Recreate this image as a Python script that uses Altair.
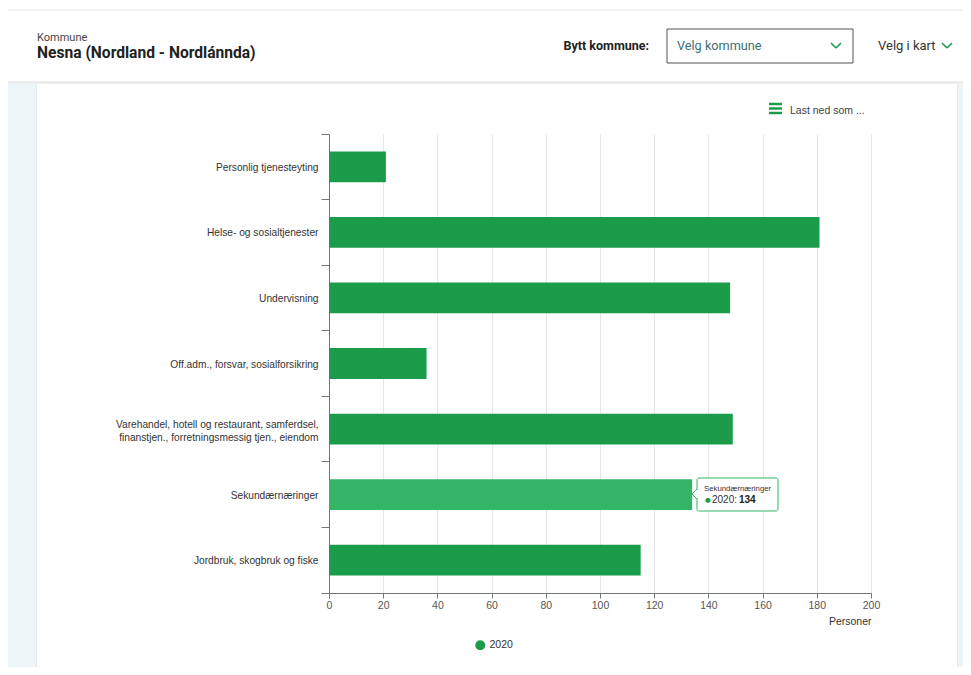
import altair as alt
import pandas as pd

# ---------------- data ----------------
kategorier = [
    "Personlig tjenesteyting",
    "Helse- og sosialtjenester",
    "Undervisning",
    "Off.adm., forsvar, sosialforsikring",
    "Varehandel, hotell og restaurant, samferdsel,|finanstjen., forretningsmessig tjen., eiendom",
    "Sekundærnæringer",
    "Jordbruk, skogbruk og fiske",
]
verdier = [21, 181, 148, 36, 149, 134, 115]
serie = "2020"
x_ticks = [0, 20, 40, 60, 80, 100, 120, 140, 160, 180, 200]
fremhevet = "Sekundærnæringer"

kommune_tittel = "Nesna (Nordland - Nordlánnda)"

df = pd.DataFrame({"kategori": kategorier, "verdi": verdier, "serie": [serie] * len(kategorier)})
one = pd.DataFrame({"d": [0]})

GREEN = "#1b9c4a"
GREEN_HI = "#34b566"
FONT = "Liberation Sans"
HFONT = "Roboto"

# plot origin in page coordinates
OX, OY = 329, 134


def px(x):
    return x - OX


def py(y):
    return y - OY


def rect(x1, x2, y1, y2, **kw):
    return alt.Chart(one).mark_rect(**kw).encode(
        x=alt.value(px(x1)), x2=alt.value(px(x2)), y=alt.value(py(y1)), y2=alt.value(py(y2))
    )


def rule(x1, y1, x2, y2, **kw):
    return alt.Chart(one).mark_rule(**kw).encode(
        x=alt.value(px(x1)), x2=alt.value(px(x2)), y=alt.value(py(y1)), y2=alt.value(py(y2))
    )


def txt(x, y, s, **kw):
    return alt.Chart(one).mark_text(text=s, **kw).encode(x=alt.value(px(x)), y=alt.value(py(y)))


# ---------------- page decorations ----------------
deco_bg = [
    rule(8, 10, 963, 10, color="#e4e4e4", strokeWidth=1),
    rect(8, 963, 81, 84, color="#ededed"),
    rect(8, 37, 84, 700, color="#edf5f8"),
    rect(36, 37, 84, 700, color="#e2eaee"),
    rect(957, 963, 84, 700, color="#edf5f8"),
    rect(957, 958, 84, 700, color="#e2eaee"),
]

header = [
    txt(37, 37.5, "Kommune", font=HFONT, fontSize=11, color="#444", align="left", baseline="middle"),
    txt(37, 53, kommune_tittel, font=HFONT, fontSize=15.6, fontWeight="bold", color="#222",
        align="left", baseline="middle"),
    txt(649, 46, "Bytt kommune:", font=HFONT, fontSize=12.5, fontWeight="bold", color="#222",
        align="right", baseline="middle"),
    rect(667, 853, 29, 63, fill="white", stroke="#555", strokeWidth=1),
    txt(677, 46, "Velg kommune", font=HFONT, fontSize=12.7, color="#3e6e72", align="left", baseline="middle"),
    rule(831, 43, 836, 48, color=GREEN, strokeWidth=1.6),
    rule(836, 48, 841, 43, color=GREEN, strokeWidth=1.6),
    txt(878, 46, "Velg i kart", font=HFONT, fontSize=13, color="#333", align="left", baseline="middle"),
    rule(942, 43, 947, 48, color=GREEN, strokeWidth=1.6),
    rule(947, 48, 952, 43, color=GREEN, strokeWidth=1.6),
    rule(769, 104, 782, 104, color=GREEN, strokeWidth=2.5),
    rule(769, 108.5, 782, 108.5, color=GREEN, strokeWidth=2.5),
    rule(769, 113, 782, 113, color=GREEN, strokeWidth=2.5),
    txt(790, 110.5, "Last ned som ...", font=FONT, fontSize=10.5, color="#444", align="left", baseline="middle"),
]

# ---------------- bars ----------------
bars = alt.Chart(df).mark_bar(height={"band": 0.47}).encode(
    y=alt.Y(
        "kategori:N",
        sort=kategorier,
        scale=alt.Scale(paddingInner=0, paddingOuter=0),
        axis=alt.Axis(
            title=None, grid=False, bandPosition=1, tickExtra=True, tickSize=8,
            labelPadding=3, labelColor="#333", labelFontSize=10.2, labelFont=FONT,
            labelLineHeight=13, labelLimit=400, labelExpr="split(datum.label, '|')",
            labelOffset={"condition": {"test": "indexof(datum.label, '|') >= 0", "value": -4}, "value": 1},
            domainColor="#6f777d", tickColor="#6f777d",
        ),
    ),
    x=alt.X(
        "verdi:Q",
        scale=alt.Scale(domain=[0, 200], nice=False),
        axis=alt.Axis(
            values=x_ticks, title="Personer", titleAnchor="end", titleFont=FONT,
            titleFontSize=10.5, titleFontWeight="normal", titleColor="#333", titlePadding=6,
            grid=True, gridColor="#e6e6e6", tickSize=5, labelPadding=2,
            labelColor="#555", labelFontSize=10.5, labelFont=FONT, labelFlush=False,
            domainColor="#6f777d", tickColor="#6f777d",
        ),
    ),
    color=alt.condition(
        alt.datum.kategori == fremhevet,
        alt.value(GREEN_HI),
        alt.Color(
            "serie:N",
            scale=alt.Scale(range=[GREEN]),
            legend=alt.Legend(
                title=None, orient="none", legendX=146, legendY=506, symbolType="circle",
                symbolSize=100, symbolStrokeWidth=0, labelFontSize=10.5, labelFont=FONT,
                labelColor="#333", padding=0,
            ),
        ),
    ),
)

# ---------------- tooltip ----------------
idx = kategorier.index(fremhevet)
tooltip = [
    rect(697, 778, 478, 511, fill="white", stroke=GREEN_HI, strokeWidth=1, cornerRadius=2),
    rule(697, 490, 697, 498, color="white", strokeWidth=2),
    rule(697, 489, 692, 494, color=GREEN_HI, strokeWidth=1),
    rule(692, 494, 697, 499, color=GREEN_HI, strokeWidth=1),
    txt(704, 489, fremhevet, font=FONT, fontSize=7.8, color="#333", align="left", baseline="middle"),
    txt(705, 500, "●", font="DejaVu Sans", fontSize=6.5, color=GREEN, align="left", baseline="middle"),
    txt(712, 500, f"{serie}:", font=FONT, fontSize=10, color="#333", align="left", baseline="middle"),
    txt(739, 500, str(verdier[idx]), font=FONT, fontSize=10, fontWeight="bold", color="#222",
        align="left", baseline="middle"),
]

chart = alt.layer(*deco_bg, *header, bars, *tooltip).properties(
    width=542,
    height=459,
    autosize=alt.AutoSizeParams(type="none"),
    padding={"left": 321, "top": 126, "right": 92, "bottom": 74},
    background="white",
).configure_view(stroke=None)

chart.save("out.html", embed_options={"renderer": "svg", "actions": False})
